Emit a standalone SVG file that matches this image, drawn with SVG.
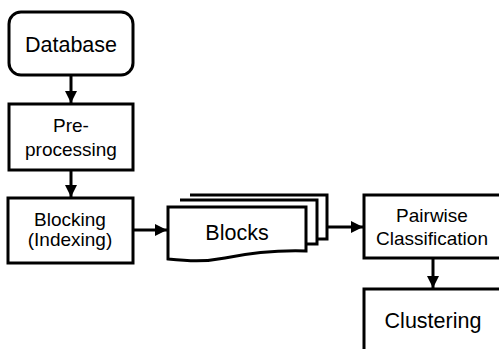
<svg xmlns="http://www.w3.org/2000/svg" width="499" height="349" viewBox="0 0 499 349">
  <defs>
    <marker id="arrow" viewBox="0 0 10 10" refX="10" refY="5" markerWidth="4" markerHeight="4" markerUnits="strokeWidth" orient="auto">
      <path d="M0,0 L10,5 L0,10 z" fill="#000"/>
    </marker>
    <style>
      .box { fill: #fff; stroke: #000; stroke-width: 3; }
      .lbl { font-family: "Liberation Sans", Arial, sans-serif; fill: #000; text-anchor: middle; }
      .big { font-size: 21.5px; }
      .small { font-size: 19px; }
      .edge { fill: none; stroke: #000; stroke-width: 3; }
    </style>
  </defs>
  <rect width="499" height="349" fill="#fff"/>

  <g id="connectors">
    <path class="edge" d="M71,76 L71,103" marker-end="url(#arrow)"/>
    <path class="edge" d="M71,170 L71,197" marker-end="url(#arrow)"/>
    <path class="edge" d="M133,230 L167,230" marker-end="url(#arrow)"/>
    <path class="edge" d="M327,227 L363,227" marker-end="url(#arrow)"/>
    <path class="edge" d="M433,258 L433,288" marker-end="url(#arrow)"/>
  </g>

  <g id="database">
    <rect class="box" x="9" y="12" width="124" height="63" rx="12"/>
    <text class="lbl big" x="71" y="52">Database</text>
  </g>

  <g id="preprocessing">
    <rect class="box" x="9" y="104" width="124" height="66"/>
    <text class="lbl small" x="71" y="132">Pre-</text>
    <text class="lbl small" x="71" y="156">processing</text>
  </g>

  <g id="blocking">
    <rect class="box" x="8" y="198" width="125" height="65"/>
    <text class="lbl small" x="70" y="226">Blocking</text>
    <text class="lbl small" x="70" y="246">(Indexing)</text>
  </g>

  <g id="blocks">
    <path class="box" d="M190,195 L327,195 L327,239 L317,239"/>
    <path class="box" d="M180,200 L317,200 L317,244 L306,244"/>
    <path class="box" d="M168,207 L306,207 L306,251 C275,250 250,253 225,258 C205,262 188,261 168,259 Z"/>
    <text class="lbl big" x="237" y="240">Blocks</text>
  </g>

  <g id="pairwise">
    <rect class="box" x="364" y="195" width="140" height="63"/>
    <text class="lbl small" x="432" y="222">Pairwise</text>
    <text class="lbl small" x="432" y="245">Classification</text>
  </g>

  <g id="clustering">
    <rect class="box" x="364" y="289" width="140" height="70"/>
    <text class="lbl big" x="433" y="328">Clustering</text>
  </g>
</svg>
